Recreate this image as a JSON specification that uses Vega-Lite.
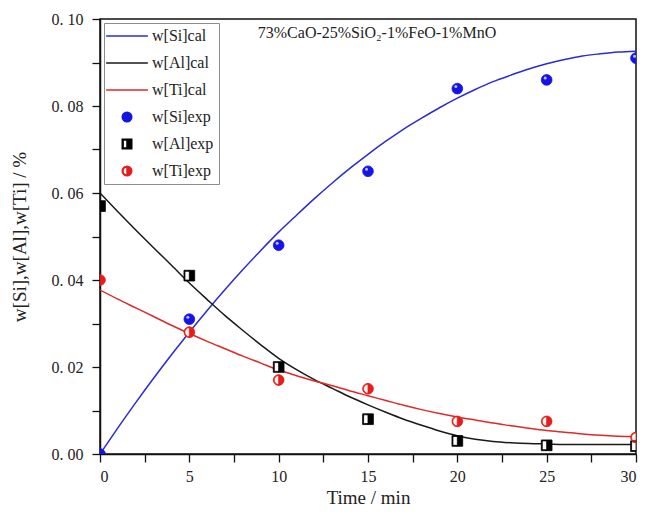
{
  "$schema": "https://vega.github.io/schema/vega-lite/v6.json",
  "width": 536,
  "height": 435,
  "padding": {"left": 10, "top": 11, "right": 5, "bottom": 5},
  "background": "white",
  "title": {
    "text": "73%CaO-25%SiO₂-1%FeO-1%MnO",
    "font": "Times New Roman",
    "fontSize": 16,
    "fontWeight": "normal",
    "color": "#222",
    "anchor": "middle",
    "offset": -30,
    "dx": 9
  },
  "datasets": {
    "cal": [
      {"t": 0, "v": 0.0, "s": "w[Si]cal"}, {"t": 1, "v": 0.006, "s": "w[Si]cal"}, {"t": 2, "v": 0.0118, "s": "w[Si]cal"}, {"t": 3, "v": 0.0174, "s": "w[Si]cal"}, {"t": 4, "v": 0.0228, "s": "w[Si]cal"}, {"t": 5, "v": 0.028, "s": "w[Si]cal"}, {"t": 6, "v": 0.033, "s": "w[Si]cal"}, {"t": 7, "v": 0.0378, "s": "w[Si]cal"}, {"t": 8, "v": 0.0424, "s": "w[Si]cal"}, {"t": 9, "v": 0.0468, "s": "w[Si]cal"}, {"t": 10, "v": 0.051, "s": "w[Si]cal"}, {"t": 11, "v": 0.0549, "s": "w[Si]cal"}, {"t": 12, "v": 0.0587, "s": "w[Si]cal"}, {"t": 13, "v": 0.0623, "s": "w[Si]cal"}, {"t": 14, "v": 0.0657, "s": "w[Si]cal"}, {"t": 15, "v": 0.0689, "s": "w[Si]cal"}, {"t": 16, "v": 0.0719, "s": "w[Si]cal"}, {"t": 17, "v": 0.0747, "s": "w[Si]cal"}, {"t": 18, "v": 0.0772, "s": "w[Si]cal"}, {"t": 19, "v": 0.0796, "s": "w[Si]cal"}, {"t": 20, "v": 0.0818, "s": "w[Si]cal"}, {"t": 21, "v": 0.0838, "s": "w[Si]cal"}, {"t": 22, "v": 0.0856, "s": "w[Si]cal"}, {"t": 23, "v": 0.0871, "s": "w[Si]cal"}, {"t": 24, "v": 0.0885, "s": "w[Si]cal"}, {"t": 25, "v": 0.0897, "s": "w[Si]cal"}, {"t": 26, "v": 0.0907, "s": "w[Si]cal"}, {"t": 27, "v": 0.0915, "s": "w[Si]cal"}, {"t": 28, "v": 0.092, "s": "w[Si]cal"}, {"t": 29, "v": 0.0924, "s": "w[Si]cal"}, {"t": 30, "v": 0.0926, "s": "w[Si]cal"},
      {"t": 0, "v": 0.06, "s": "w[Al]cal"}, {"t": 1, "v": 0.0557, "s": "w[Al]cal"}, {"t": 2, "v": 0.0515, "s": "w[Al]cal"}, {"t": 3, "v": 0.0474, "s": "w[Al]cal"}, {"t": 4, "v": 0.0434, "s": "w[Al]cal"}, {"t": 5, "v": 0.0393, "s": "w[Al]cal"}, {"t": 6, "v": 0.0355, "s": "w[Al]cal"}, {"t": 7, "v": 0.0318, "s": "w[Al]cal"}, {"t": 8, "v": 0.0284, "s": "w[Al]cal"}, {"t": 9, "v": 0.0251, "s": "w[Al]cal"}, {"t": 10, "v": 0.022, "s": "w[Al]cal"}, {"t": 11, "v": 0.0194, "s": "w[Al]cal"}, {"t": 12, "v": 0.0171, "s": "w[Al]cal"}, {"t": 13, "v": 0.0151, "s": "w[Al]cal"}, {"t": 14, "v": 0.0131, "s": "w[Al]cal"}, {"t": 15, "v": 0.0113, "s": "w[Al]cal"}, {"t": 16, "v": 0.0096, "s": "w[Al]cal"}, {"t": 17, "v": 0.008, "s": "w[Al]cal"}, {"t": 18, "v": 0.0066, "s": "w[Al]cal"}, {"t": 19, "v": 0.0053, "s": "w[Al]cal"}, {"t": 20, "v": 0.0042, "s": "w[Al]cal"}, {"t": 21, "v": 0.0034, "s": "w[Al]cal"}, {"t": 22, "v": 0.0029, "s": "w[Al]cal"}, {"t": 23, "v": 0.0026, "s": "w[Al]cal"}, {"t": 24, "v": 0.0024, "s": "w[Al]cal"}, {"t": 25, "v": 0.0023, "s": "w[Al]cal"}, {"t": 26, "v": 0.0022, "s": "w[Al]cal"}, {"t": 27, "v": 0.0022, "s": "w[Al]cal"}, {"t": 28, "v": 0.0022, "s": "w[Al]cal"}, {"t": 29, "v": 0.0022, "s": "w[Al]cal"}, {"t": 30, "v": 0.0022, "s": "w[Al]cal"},
      {"t": 0, "v": 0.0377, "s": "w[Ti]cal"}, {"t": 1, "v": 0.0356, "s": "w[Ti]cal"}, {"t": 2, "v": 0.0336, "s": "w[Ti]cal"}, {"t": 3, "v": 0.0316, "s": "w[Ti]cal"}, {"t": 4, "v": 0.0296, "s": "w[Ti]cal"}, {"t": 5, "v": 0.0277, "s": "w[Ti]cal"}, {"t": 6, "v": 0.0259, "s": "w[Ti]cal"}, {"t": 7, "v": 0.0242, "s": "w[Ti]cal"}, {"t": 8, "v": 0.0225, "s": "w[Ti]cal"}, {"t": 9, "v": 0.0209, "s": "w[Ti]cal"}, {"t": 10, "v": 0.0193, "s": "w[Ti]cal"}, {"t": 11, "v": 0.018, "s": "w[Ti]cal"}, {"t": 12, "v": 0.0168, "s": "w[Ti]cal"}, {"t": 13, "v": 0.0157, "s": "w[Ti]cal"}, {"t": 14, "v": 0.0145, "s": "w[Ti]cal"}, {"t": 15, "v": 0.0134, "s": "w[Ti]cal"}, {"t": 16, "v": 0.0123, "s": "w[Ti]cal"}, {"t": 17, "v": 0.0112, "s": "w[Ti]cal"}, {"t": 18, "v": 0.0102, "s": "w[Ti]cal"}, {"t": 19, "v": 0.0093, "s": "w[Ti]cal"}, {"t": 20, "v": 0.0085, "s": "w[Ti]cal"}, {"t": 21, "v": 0.0078, "s": "w[Ti]cal"}, {"t": 22, "v": 0.0071, "s": "w[Ti]cal"}, {"t": 23, "v": 0.0065, "s": "w[Ti]cal"}, {"t": 24, "v": 0.0059, "s": "w[Ti]cal"}, {"t": 25, "v": 0.0054, "s": "w[Ti]cal"}, {"t": 26, "v": 0.005, "s": "w[Ti]cal"}, {"t": 27, "v": 0.0046, "s": "w[Ti]cal"}, {"t": 28, "v": 0.0043, "s": "w[Ti]cal"}, {"t": 29, "v": 0.0041, "s": "w[Ti]cal"}, {"t": 30, "v": 0.004, "s": "w[Ti]cal"}
    ],
    "exp": [
      {"t": 0, "v": 0.0, "s": "w[Si]exp"}, {"t": 5, "v": 0.031, "s": "w[Si]exp"}, {"t": 10, "v": 0.048, "s": "w[Si]exp"}, {"t": 15, "v": 0.065, "s": "w[Si]exp"}, {"t": 20, "v": 0.084, "s": "w[Si]exp"}, {"t": 25, "v": 0.086, "s": "w[Si]exp"}, {"t": 30, "v": 0.091, "s": "w[Si]exp"},
      {"t": 0, "v": 0.057, "s": "w[Al]exp"}, {"t": 5, "v": 0.041, "s": "w[Al]exp"}, {"t": 10, "v": 0.02, "s": "w[Al]exp"}, {"t": 15, "v": 0.008, "s": "w[Al]exp"}, {"t": 20, "v": 0.003, "s": "w[Al]exp"}, {"t": 25, "v": 0.002, "s": "w[Al]exp"}, {"t": 30, "v": 0.0018, "s": "w[Al]exp"},
      {"t": 0, "v": 0.04, "s": "w[Ti]exp"}, {"t": 5, "v": 0.028, "s": "w[Ti]exp"}, {"t": 10, "v": 0.017, "s": "w[Ti]exp"}, {"t": 15, "v": 0.015, "s": "w[Ti]exp"}, {"t": 20, "v": 0.0075, "s": "w[Ti]exp"}, {"t": 25, "v": 0.0075, "s": "w[Ti]exp"}, {"t": 30, "v": 0.0038, "s": "w[Ti]exp"}
    ]
  },
  "layer": [
    {
      "data": {"name": "cal"},
      "mark": {"type": "line", "strokeWidth": 1.5, "interpolate": "monotone", "clip": true},
      "encoding": {
        "x": {"field": "t", "type": "quantitative", "scale": {"domain": [0, 30], "nice": false},
          "axis": {"values": [0, 2.5, 5, 7.5, 10, 12.5, 15, 17.5, 20, 22.5, 25, 27.5, 30], "title": "Time / min", "grid": false, "titlePadding": 4,
            "tickSize": 8, "labelPadding": 6,
            "encode": {"ticks": {"update": {"y2": {"signal": "datum.value % 5 === 0 ? 8 : 4.5"}}}},
            "labelExpr": "datum.value % 5 === 0 ? datum.label : ''"}},
        "y": {"field": "v", "type": "quantitative", "scale": {"domain": [0, 0.1], "nice": false},
          "axis": {"values": [0, 0.01, 0.02, 0.03, 0.04, 0.05, 0.06, 0.07, 0.08, 0.09, 0.1], "title": "w[Si],w[Al],w[Ti] / %", "grid": false, "titlePadding": 22,
            "tickSize": 8, "labelPadding": 9,
            "encode": {"ticks": {"update": {"x2": {"signal": "round(datum.value * 100) % 2 === 0 ? -8 : -4.5"}}}},
            "labelExpr": "round(datum.value * 100) % 2 === 0 ? replace(format(datum.value, '.2f'), '.', '. ') : ''"}},
        "stroke": {"field": "s", "type": "nominal",
          "scale": {"domain": ["w[Si]cal", "w[Al]cal", "w[Ti]cal", "w[Si]exp", "w[Al]exp", "w[Ti]exp"],
            "range": ["#2b2bd6", "#1a1a1a", "#e02828", "#1414e6", "#000000", "#e81c1c"]},
          "legend": {"title": null}}
      }
    },
    {
      "data": {"name": "exp"},
      "transform": [{"filter": "datum.s == 'w[Ti]exp'"}],
      "mark": {"type": "point", "shape": "circle", "filled": true, "color": "#fffaf0", "size": 110, "opacity": 1, "clip": true},
      "encoding": {
        "x": {"field": "t", "type": "quantitative"},
        "y": {"field": "v", "type": "quantitative"}
      }
    },
    {
      "data": {"name": "exp"},
      "transform": [{"filter": "datum.s == 'w[Al]exp'"}],
      "mark": {"type": "point", "shape": "square", "filled": true, "color": "#ffffff", "size": 100, "opacity": 1, "clip": true},
      "encoding": {
        "x": {"field": "t", "type": "quantitative"},
        "y": {"field": "v", "type": "quantitative"}
      }
    },
    {
      "data": {"name": "exp"},
      "mark": {"type": "point", "size": 115, "opacity": 1, "strokeWidth": 0.8, "clip": true},
      "encoding": {
        "x": {"field": "t", "type": "quantitative"},
        "y": {"field": "v", "type": "quantitative"},
        "stroke": {"field": "s", "type": "nominal", "legend": {"title": null}},
        "fill": {"field": "s", "type": "nominal",
          "scale": {"domain": ["w[Si]cal", "w[Al]cal", "w[Ti]cal", "w[Si]exp", "w[Al]exp", "w[Ti]exp"],
            "range": ["#2b2bd6", "#1a1a1a", "#e02828", "#1414e6", "#000000", "#e81c1c"]},
          "legend": {"title": null}},
        "shape": {"field": "s", "type": "nominal",
          "scale": {"domain": ["w[Si]cal", "w[Al]cal", "w[Ti]cal", "w[Si]exp", "w[Al]exp", "w[Ti]exp"],
            "range": ["M-4.4,0L4.4,0", "M-4.4,0L4.4,0", "M-4.4,0L4.4,0", "circle",
              "M0,-1L1,-1L1,1L0,1Z M0,-1L-1,-1L-1,1L0,1L0,0.82L-0.82,0.82L-0.82,-0.82L0,-0.82Z",
              "M0,-1A1,1 0 0,1 0,1Z M0,1A1,1 0 0,1 0,-1L0,-0.84A0.84,0.84 0 0,0 0,0.84Z"]},
          "legend": {"title": null}}
      }
    },
    {
      "data": {"name": "exp"},
      "transform": [{"filter": "datum.s == 'w[Si]exp'"}],
      "mark": {"type": "point", "shape": "circle", "filled": true, "color": "#c8d0ff", "size": 9, "opacity": 0.9, "xOffset": -1.5, "yOffset": -2, "clip": true},
      "encoding": {
        "x": {"field": "t", "type": "quantitative"},
        "y": {"field": "v", "type": "quantitative"}
      }
    }
  ],
  "config": {
    "font": "Times New Roman",
    "view": {"stroke": "#111", "strokeWidth": 1.5},
    "axis": {
      "labelFont": "Times New Roman", "labelFontSize": 16, "labelColor": "#222",
      "titleFont": "Times New Roman", "titleFontSize": 19, "titleFontWeight": "normal", "titleColor": "#222",
      "domainColor": "#111", "domainWidth": 1.5, "tickColor": "#111", "tickWidth": 1.3
    },
    "legend": {
      "orient": "top-left", "offset": 4, "padding": 5,
      "strokeColor": "#8c8c8c", "fillColor": "white",
      "labelFont": "Times New Roman", "labelFontSize": 16, "labelColor": "#222",
      "symbolSize": 90, "symbolStrokeWidth": 1.5, "symbolOffset": 10, "labelOffset": 17, "rowPadding": 11
    }
  }
}
